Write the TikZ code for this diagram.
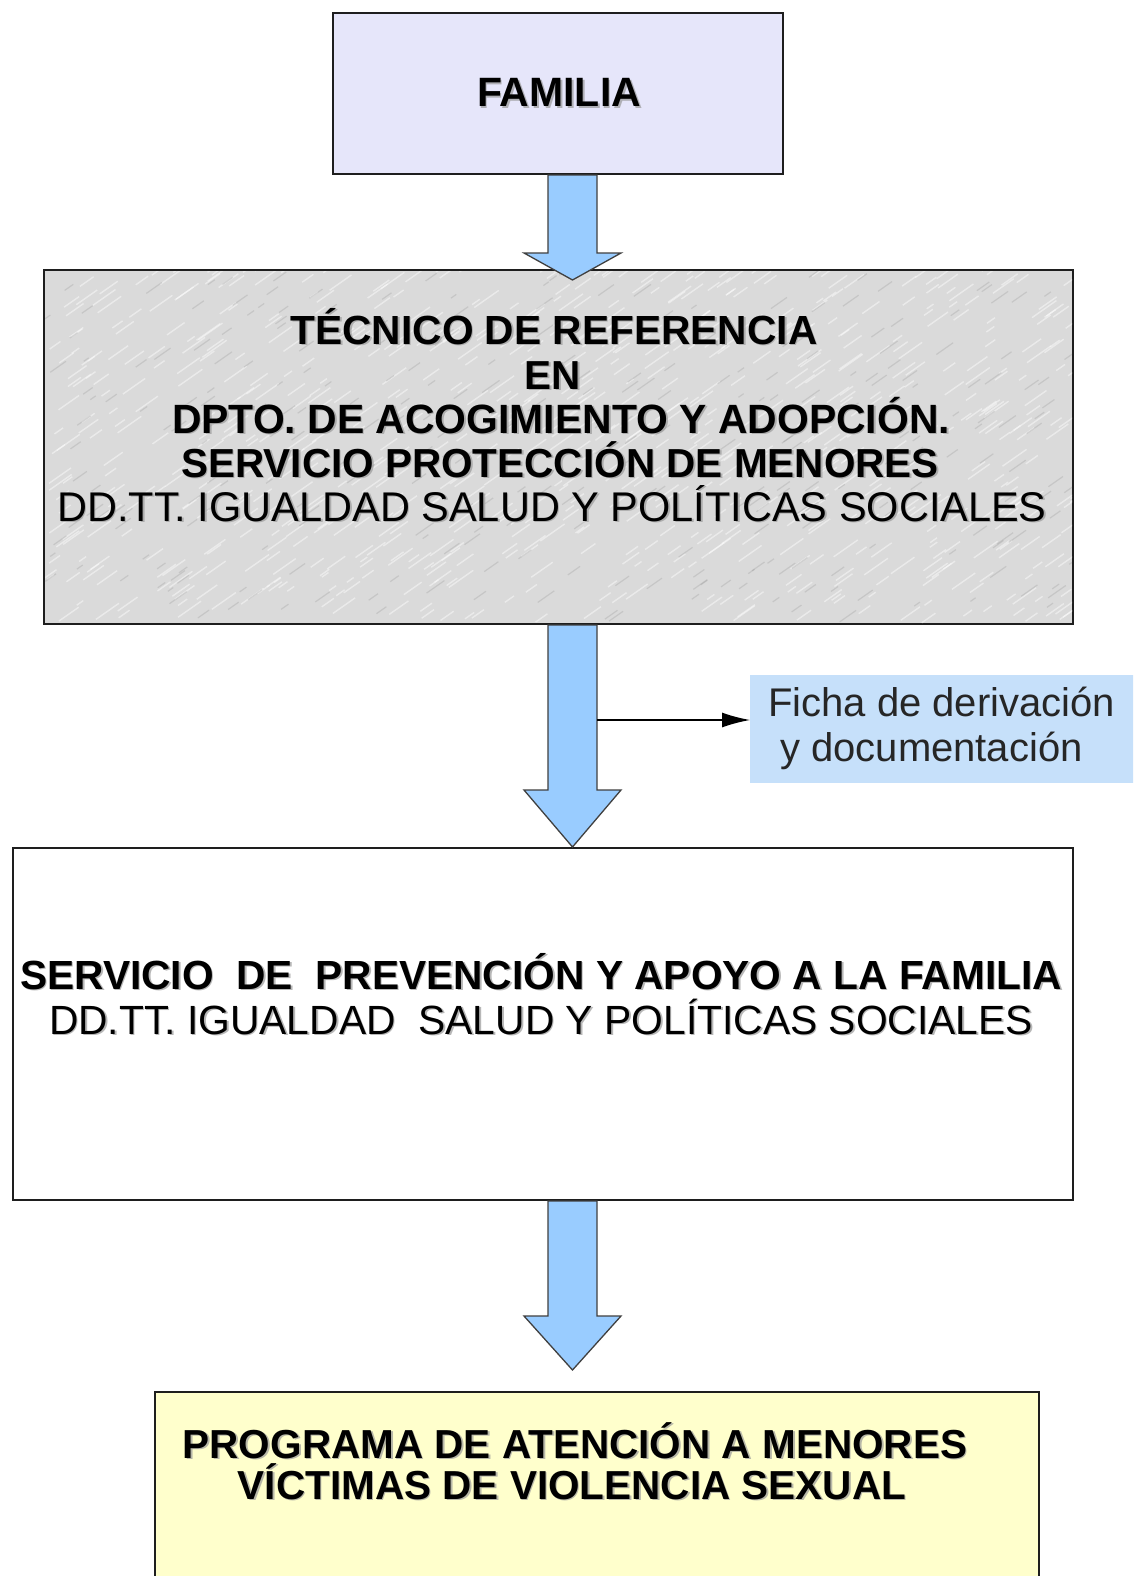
\documentclass[tikz,border=0pt]{standalone}
\usepackage{fontspec}
\setmainfont{Liberation Sans}
\usetikzlibrary{arrows.meta,calc}
\definecolor{famfill}{RGB}{230,230,250}
\definecolor{tecfill}{RGB}{218,218,218}
\definecolor{arrowfill}{RGB}{153,204,255}
\definecolor{labfill}{RGB}{198,224,250}
\definecolor{progfill}{RGB}{255,255,204}
\definecolor{boxline}{RGB}{30,30,30}
\newcommand{\blockarrow}[3]{%
  \draw[barrow] let \p1=#1, \p2=#2 in
    (\x1-24.5pt,\y1) -- (\x1-24.5pt,\y2+#3) -- (\x1-48.5pt,\y2+#3) -- (\x2,\y2)
    -- (\x1+48.5pt,\y2+#3) -- (\x1+24.5pt,\y2+#3) -- (\x1+24.5pt,\y1) -- cycle;}
% shadowed text: style, name, position, text
\newcommand{\stext}[4]{%
  \node[#1, text=black!40, opacity=0.7, xshift=1.6pt, yshift=-1.6pt] (#2s) at #3 {#4};
  \node[#1] (#2) at #3 {#4};}
\begin{document}
\begin{tikzpicture}[x=1pt,y=-1pt,
  box/.style={draw=boxline, line width=2pt, inner sep=0pt, anchor=north west},
  barrow/.style={fill=arrowfill, draw=black!75, line width=1.3pt, line join=miter},
  smallarrow/.style={draw=black, line width=1.4pt, -{Latex[length=28pt,width=15pt]}},
  boldtxt/.style={font=\fontsize{40.5}{48}\selectfont\bfseries, anchor=base, inner sep=0pt},
  regtxt/.style={font=\fontsize{40.8}{48}\selectfont, anchor=base, inner sep=0pt},
  labtxt/.style={font=\fontsize{40}{48}\selectfont, text=black!85, anchor=base west, inner sep=0pt}]
\useasboundingbox (0,0) rectangle (1133,1576);
\clip (0,0) rectangle (1133,1576);
\fill[white] (0,0) rectangle (1133,1576);

% boxes
\node[box, fill=famfill, minimum width=450pt, minimum height=161pt] (fam) at (332,12) {};
\node[box, fill=tecfill, minimum width=1029pt, minimum height=354pt] (tec) at (43,269) {};
\begin{scope}
  \clip ($(tec.north west)+(2,2)$) rectangle ($(tec.south east)+(-2,-2)$);
  \pgfmathsetseed{11}
  \foreach \i in {1,...,800}{
    \pgfmathsetmacro\xx{43+rnd*1029}
    \pgfmathsetmacro\yy{269+rnd*354}
    \pgfmathsetmacro\ll{8+rnd*22}
    \draw[white, opacity=0.45, line width=1.4pt] (\xx,\yy) -- ++(-35:\ll);
  }
  \foreach \i in {1,...,300}{
    \pgfmathsetmacro\xx{43+rnd*1029}
    \pgfmathsetmacro\yy{269+rnd*354}
    \pgfmathsetmacro\ll{6+rnd*16}
    \draw[gray, opacity=0.22, line width=1.2pt] (\xx,\yy) -- ++(-35:\ll);
  }
\end{scope}
\node[box, fill=white, minimum width=1060pt, minimum height=352pt] (serv) at (12,847) {};
\node[box, fill=progfill, minimum width=884pt, minimum height=240pt] (prog) at (154,1391) {};
\node[anchor=north west, fill=labfill, inner sep=0pt, minimum width=400pt, minimum height=108pt] (lab) at (750,675) {};

% block arrows
\coordinate (ax) at (572.5,0);
\coordinate (tip1) at (572.5,280);
\coordinate (tip3) at (572.5,1370);
\blockarrow{(fam.south -| ax)}{(tip1)}{27pt}
\blockarrow{(tec.south -| ax)}{(serv.north -| ax)}{57pt}
\blockarrow{(serv.south -| ax)}{(tip3)}{54pt}

% side connector
\coordinate (s2) at (597,720);
\draw[smallarrow] (s2) -- (s2 -| lab.west);

% texts
\stext{boldtxt, font=\fontsize{41}{48}\selectfont\bfseries}{t0}{(559,107)}{FAMILIA}
\stext{boldtxt, font=\fontsize{40.7}{48}\selectfont\bfseries}{t1}{(554,344)}{TÉCNICO DE REFERENCIA}
\stext{boldtxt}{t2}{(553,389)}{EN}
\stext{boldtxt, font=\fontsize{40.9}{48}\selectfont\bfseries}{t3}{(561,433)}{DPTO. DE ACOGIMIENTO Y ADOPCIÓN.}
\stext{boldtxt}{t4}{(560,477)}{SERVICIO PROTECCIÓN DE MENORES}
\stext{regtxt, font=\fontsize{41.5}{48}\selectfont}{t5}{(552,521)}{DD.TT. IGUALDAD SALUD Y POLÍTICAS SOCIALES}
\stext{boldtxt, font=\fontsize{40.7}{48}\selectfont\bfseries}{t6}{(541,989)}{SERVICIO\ \ DE\ \ PREVENCIÓN Y APOYO A LA FAMILIA}
\stext{regtxt}{t7}{(541,1034)}{DD.TT. IGUALDAD\ \ SALUD Y POLÍTICAS SOCIALES}
\stext{boldtxt}{t8}{(575,1458)}{PROGRAMA DE ATENCIÓN A MENORES}
\stext{boldtxt}{t9}{(572,1499)}{VÍCTIMAS DE VIOLENCIA SEXUAL}
\node[labtxt] (l1) at (768,716) {Ficha de derivación};
\node[labtxt] (l2) at (780,761) {y documentación};
\end{tikzpicture}
\end{document}
